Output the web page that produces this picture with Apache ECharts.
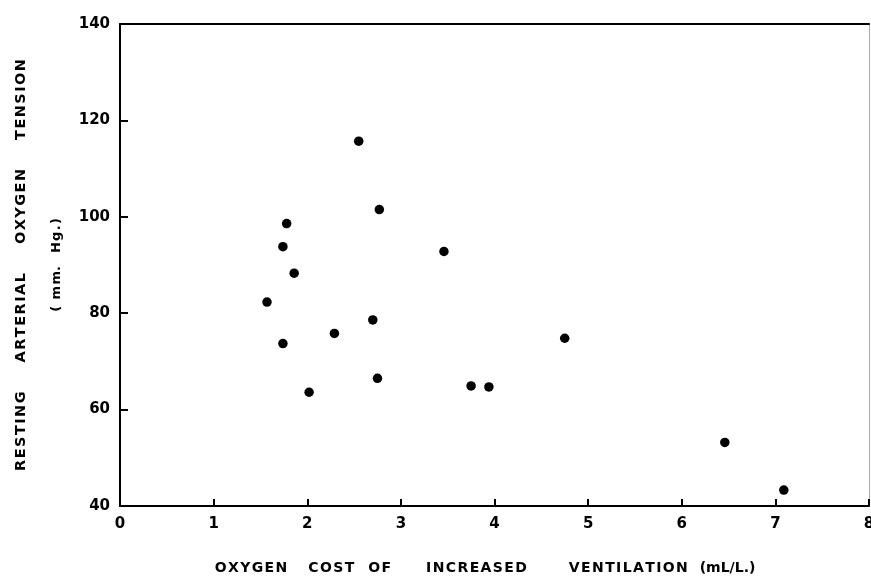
<!DOCTYPE html>
<html><head><meta charset="utf-8">
<script src="https://cdn.jsdelivr.net/npm/echarts@6/dist/echarts.min.js"></script>
<style>html,body{margin:0;padding:0;background:#fff}#c{width:871px;height:581px}</style>
</head><body><div id="c"></div>
<script>
const xValues = [2.55, 2.77, 1.78, 1.74, 1.86, 1.57, 3.46, 2.70, 2.29, 1.74, 2.75, 2.02, 3.75, 3.94, 4.75, 6.46, 7.09];
const yValues = [115.7, 101.5, 98.6, 93.8, 88.3, 82.3, 92.8, 78.6, 75.8, 73.7, 66.5, 63.6, 64.9, 64.7, 74.8, 53.2, 43.3];
const xTicks = [0, 1, 2, 3, 4, 5, 6, 7, 8];
const yTicks = [40, 60, 80, 100, 120, 140];
const xTitleWords = ['OXYGEN', 'COST', 'OF', 'INCREASED', 'VENTILATION', '(mL/L.)'];
const yTitleWords = ['RESTING', 'ARTERIAL', 'OXYGEN', 'TENSION'];

const HS = '\u200A', EN = '\u2002', EM = '\u2003';
const sp = w => w.split('').join(HS);
const xGaps = [EM + EN, EM, EM + EM + EN, EM + EM + EM, EN + ' '];
let xTitle = '';
xTitleWords.forEach((w, i) => { xTitle += (i === xTitleWords.length - 1 ? w : sp(w)) + (xGaps[i] || ''); });
const yTitle = yTitleWords.map(sp).join(EM + EM);
const yUnit = '(' + EN + 'm' + HS + 'm.' + EM + 'H' + HS + 'g' + HS + '.' + HS + ')';

const font = 'DejaVu Sans';
const chart = echarts.init(document.getElementById('c'));
const pts = xValues.map((x, i) => [x, yValues[i]]);
chart.setOption({
  backgroundColor: '#fff',
  animation: false,
  grid: { left: 120, right: 2, top: 24, bottom: 75, outerBoundsMode: 'none', containLabel: false },
  xAxis: [{
    type: 'value', min: xTicks[0], max: xTicks[xTicks.length - 1], interval: 1,
    axisLine: { show: true, lineStyle: { color: '#000', width: 2 } },
    axisTick: { show: true, inside: true, length: 7, lineStyle: { color: '#000', width: 2 } },
    axisLabel: { color: '#000', fontFamily: font, fontWeight: 'bold', fontSize: 15, margin: 11 },
    splitLine: { show: false },
    name: xTitle, nameLocation: 'middle', nameGap: 55,
    nameTextStyle: { color: '#000', fontFamily: font, fontWeight: 'bold', fontSize: 14, padding: [0, 19, 0, 0] }
  }, {
    type: 'value', position: 'top', min: 0, max: 8,
    axisLine: { show: true, lineStyle: { color: '#000', width: 2 } },
    axisTick: { show: false }, axisLabel: { show: false }, splitLine: { show: false }
  }],
  yAxis: [{
    type: 'value', min: yTicks[0], max: yTicks[yTicks.length - 1], interval: 20,
    axisLine: { show: true, lineStyle: { color: '#000', width: 2 } },
    axisTick: { show: true, inside: true, length: 8, lineStyle: { color: '#000', width: 2 } },
    axisLabel: { color: '#000', fontFamily: font, fontWeight: 'bold', fontSize: 15, margin: 10 },
    splitLine: { show: false },
    name: yTitle, nameLocation: 'middle', nameGap: 91, nameRotate: 90,
    nameTextStyle: { color: '#000', fontFamily: font, fontWeight: 'bold', fontSize: 14.5 }
  }, {
    type: 'value', position: 'left', min: 40, max: 140,
    axisLine: { show: false }, axisTick: { show: false }, axisLabel: { show: false }, splitLine: { show: false },
    name: yUnit, nameLocation: 'middle', nameGap: 57, nameRotate: 90,
    nameTextStyle: { color: '#000', fontFamily: font, fontWeight: 'bold', fontSize: 13 }
  }, {
    type: 'value', position: 'right', min: 40, max: 140,
    axisLine: { show: true, lineStyle: { color: '#aaa', width: 1 } },
    axisTick: { show: false }, axisLabel: { show: false }, splitLine: { show: false }
  }],
  series: [{
    type: 'scatter', data: pts, symbol: 'circle', symbolSize: 9.5,
    itemStyle: { color: '#000', opacity: 1 }
  }]
});
</script></body></html>
